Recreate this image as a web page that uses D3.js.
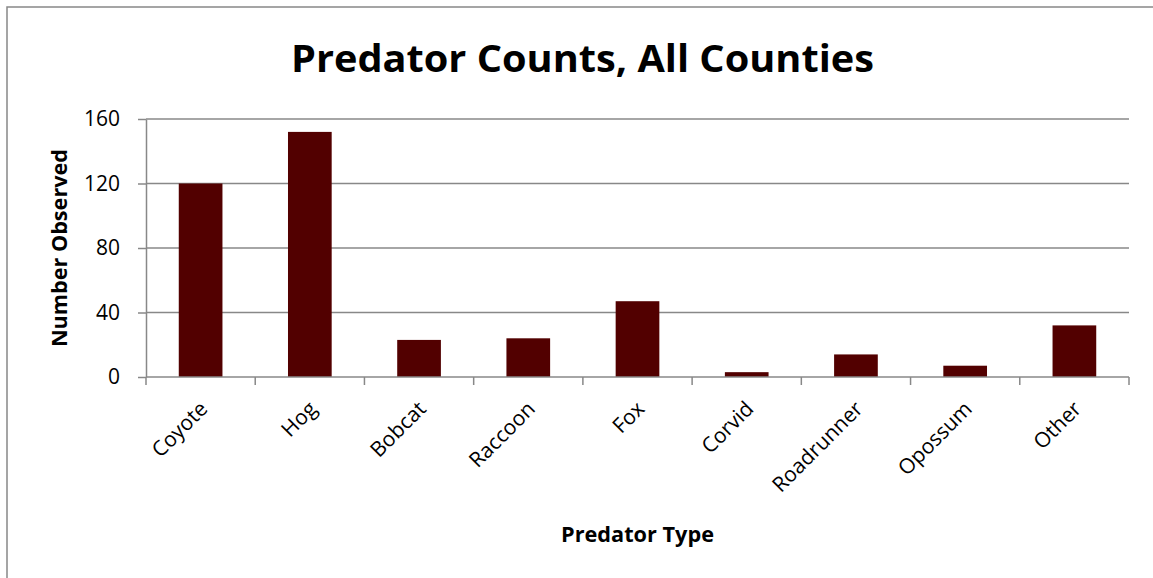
<!DOCTYPE html>
<html>
<head>
<meta charset="utf-8">
<script src="https://cdn.jsdelivr.net/npm/d3@7"></script>
<style>
  html, body { margin: 0; padding: 0; background: #fff; }
  svg { display: block; }
  text { font-family: "Open Sans", "Liberation Sans", sans-serif; fill: #000; }
</style>
</head>
<body>
<svg id="chart" width="1153" height="578"></svg>
<script>
const categories = ["Coyote", "Hog", "Bobcat", "Raccoon", "Fox", "Corvid", "Roadrunner", "Opossum", "Other"];
const counts = [120, 152, 23, 24, 47, 3, 14, 7, 32];
const yTicks = [0, 40, 80, 120, 160];
const titleText = "Predator Counts, All Counties";
const xTitle = "Predator Type";
const yTitle = "Number Observed";

const svg = d3.select("#chart");
const plot = { left: 146, right: 1129, top: 119, bottom: 377 };
const grey = "#888888";
const barColor = "#520000";

// chart border
svg.append("rect")
  .attr("x", 7).attr("y", 7)
  .attr("width", 1160).attr("height", 600)
  .attr("fill", "#fff").attr("stroke", grey).attr("stroke-width", 1.5);

const x = d3.scaleBand().domain(categories)
  .range([plot.left, plot.right]).paddingInner(0.6).paddingOuter(0.3);
const y = d3.scaleLinear().domain([0, 160]).range([plot.bottom, plot.top]);
const step = x.step();

// gridlines
svg.append("g").selectAll("line").data(yTicks.filter(d => d > 0)).join("line")
  .attr("x1", plot.left).attr("x2", plot.right)
  .attr("y1", d => y(d)).attr("y2", d => y(d))
  .attr("stroke", grey).attr("stroke-width", 1.5);

// y axis
const yAxis = svg.append("g").attr("transform", `translate(${plot.left},0)`)
  .attr("font-size", 21)
  .call(d3.axisLeft(y).tickValues(yTicks).tickSize(8).tickPadding(18).tickSizeOuter(0));
yAxis.attr("font-size", 21);
yAxis.select(".domain").attr("stroke", grey).attr("stroke-width", 1.5);
yAxis.selectAll(".tick line").attr("stroke", grey).attr("stroke-width", 1.5);
yAxis.selectAll(".tick text").style("font-size", "21px").attr("fill", "#000");

// bars
svg.append("g").selectAll("rect").data(categories).join("rect")
  .attr("x", d => x(d))
  .attr("y", (d, i) => y(counts[i]))
  .attr("width", x.bandwidth())
  .attr("height", (d, i) => y(0) - y(counts[i]))
  .attr("fill", barColor);

// x axis baseline
svg.append("line")
  .attr("x1", plot.left).attr("x2", plot.right)
  .attr("y1", y(0)).attr("y2", y(0))
  .attr("stroke", grey).attr("stroke-width", 1.5);

// x tick marks at category boundaries
const bounds = categories.map(c => x(c) + x.bandwidth() / 2 - step / 2)
  .concat([x(categories[categories.length - 1]) + x.bandwidth() / 2 + step / 2]);
svg.append("g").selectAll("line").data(bounds).join("line")
  .attr("x1", d => d).attr("x2", d => d)
  .attr("y1", y(0)).attr("y2", y(0) + 8)
  .attr("stroke", grey).attr("stroke-width", 1.5);

// x labels
svg.append("g").selectAll("text").data(categories).join("text")
  .attr("transform", d => `translate(${x(d) + x.bandwidth() / 2 + 3},${y(0) + 28}) rotate(-45)`)
  .attr("text-anchor", "end")
  .attr("dy", "0.35em")
  .style("font-size", "21px")
  .text(d => d);

// title
svg.append("text")
  .attr("x", 582.5).attr("y", 72)
  .attr("text-anchor", "middle")
  .style("font-size", "38px").attr("font-weight", "bold")
  .attr("textLength", 583).attr("lengthAdjust", "spacingAndGlyphs")
  .text(titleText);

// x axis title
svg.append("text")
  .attr("x", (plot.left + plot.right) / 2).attr("y", 542)
  .attr("text-anchor", "middle")
  .style("font-size", "21px").attr("font-weight", "bold")
  .attr("textLength", 153).attr("lengthAdjust", "spacingAndGlyphs")
  .text(xTitle);

// y axis title
svg.append("text")
  .attr("transform", `translate(67,${(plot.top + plot.bottom) / 2}) rotate(-90)`)
  .attr("text-anchor", "middle")
  .style("font-size", "21px").attr("font-weight", "bold")
  .attr("textLength", 198).attr("lengthAdjust", "spacingAndGlyphs")
  .text(yTitle);
</script>
</body>
</html>
